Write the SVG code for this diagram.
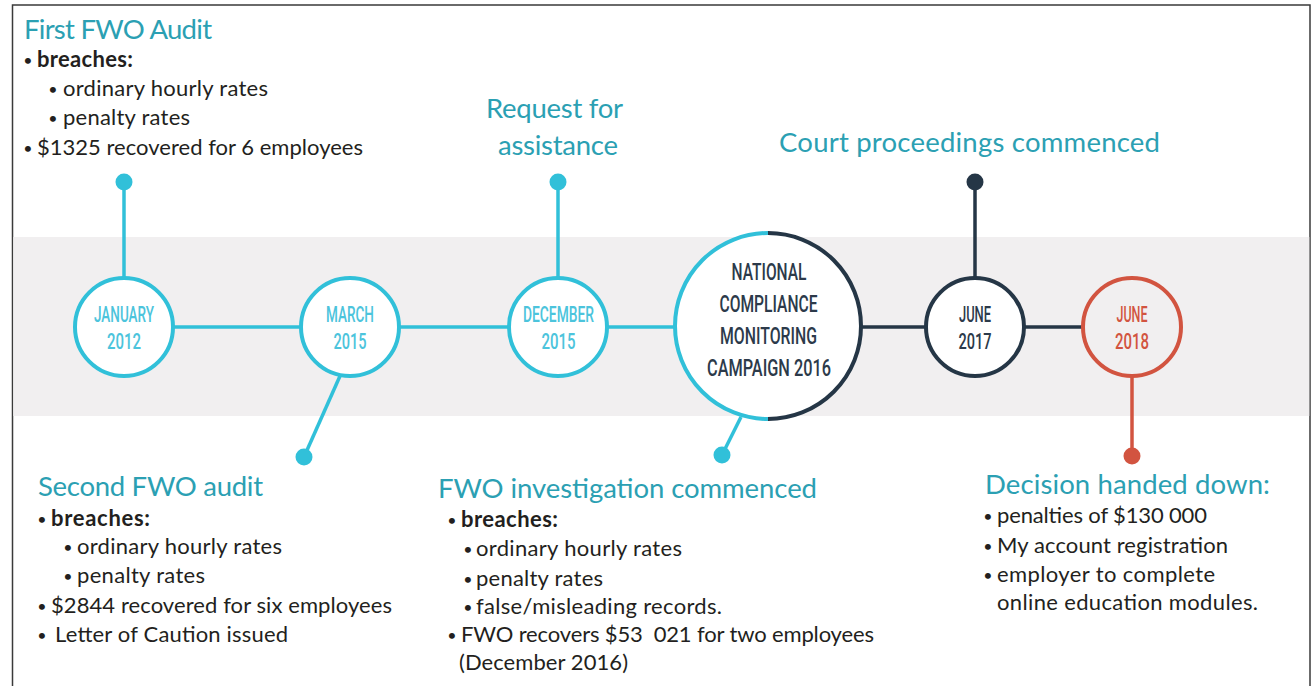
<svg xmlns="http://www.w3.org/2000/svg" width="1316" height="686" viewBox="0 0 1316 686">
  <style>
    .hd{font-family:Lato,"Liberation Sans",sans-serif;font-size:27.5px;fill:#2ba0b3}
    .bd{font-family:Lato,"Liberation Sans",sans-serif;font-size:22px;fill:#231f20}
    .bl{font-family:Lato,"Liberation Sans",sans-serif;font-size:16px;fill:#231f20;text-anchor:middle}
    .b{font-weight:bold}
    .dt{font-family:Roboto,"Liberation Sans",sans-serif;font-size:22px;font-weight:500}
    .nat{font-family:Roboto,"Liberation Sans",sans-serif;font-size:24px;font-weight:500;fill:#2c3a4a}
    .cy{fill:#4cc4dc}
    .nv{fill:#2c3a4a}
    .rd{fill:#d25440}
    .ln-c{stroke:#31c0d9;stroke-width:4;fill:none}
    .ln-n{stroke:#253646;stroke-width:4;fill:none}
    .ln-r{stroke:#d25440;stroke-width:4;fill:none}
    .stem-c{stroke:#31c0d9;stroke-width:3.5}
    .stem-n{stroke:#253646;stroke-width:3.5}
    .stem-r{stroke:#d25440;stroke-width:3.5}
  </style>

  <!-- frame and band -->
  <rect x="12.5" y="5" width="1297.5" height="700" fill="#ffffff" stroke="#3a3a3a" stroke-width="1.5"/>
  <rect x="13.3" y="237" width="1296" height="179" fill="#f1eff0"/>

  <!-- connectors -->
  <g id="connectors">
    <line class="stem-c" x1="124" y1="327" x2="675" y2="327" stroke-width="4"/>
    <line class="stem-n" x1="861" y1="327" x2="1083" y2="327" stroke-width="4"/>
    <line class="stem-c" x1="124" y1="182" x2="124" y2="278"/>
    <circle cx="124" cy="182" r="8.5" fill="#31c0d9"/>
    <line class="stem-c" x1="558" y1="182" x2="558" y2="278"/>
    <circle cx="558" cy="182" r="8.5" fill="#31c0d9"/>
    <line class="stem-n" x1="975" y1="182" x2="975" y2="278"/>
    <circle cx="975" cy="182" r="8.5" fill="#253646"/>
    <line class="stem-c" x1="340" y1="376" x2="304" y2="457"/>
    <circle cx="304" cy="457" r="8.5" fill="#31c0d9"/>
    <line class="stem-c" x1="741" y1="417" x2="722" y2="455"/>
    <circle cx="722" cy="455" r="8.5" fill="#31c0d9"/>
    <line class="stem-r" x1="1132" y1="376" x2="1132" y2="456"/>
    <circle cx="1132" cy="456" r="8.5" fill="#d25440"/>
  </g>

  <!-- timeline nodes -->
  <g id="node-jan2012">
    <circle cx="124" cy="327" r="49" class="ln-c" style="fill:#fff"/>
    <text class="dt cy" x="94" y="322" textLength="60" lengthAdjust="spacingAndGlyphs">JANUARY</text>
    <text class="dt cy" x="107" y="349" textLength="34" lengthAdjust="spacingAndGlyphs">2012</text>
  </g>
  <g id="node-mar2015">
    <circle cx="350" cy="327" r="49" class="ln-c" style="fill:#fff"/>
    <text class="dt cy" x="326" y="322" textLength="48" lengthAdjust="spacingAndGlyphs">MARCH</text>
    <text class="dt cy" x="333.5" y="349" textLength="33" lengthAdjust="spacingAndGlyphs">2015</text>
  </g>
  <g id="node-dec2015">
    <circle cx="558" cy="327" r="49" class="ln-c" style="fill:#fff"/>
    <text class="dt cy" x="523" y="322" textLength="71" lengthAdjust="spacingAndGlyphs">DECEMBER</text>
    <text class="dt cy" x="541.5" y="349" textLength="34" lengthAdjust="spacingAndGlyphs">2015</text>
  </g>
  <g id="node-campaign2016">
    <circle cx="768" cy="326" r="93" fill="#ffffff"/>
    <path class="ln-c" stroke-width="3.5" d="M768,233 A93,93 0 0 0 768,419"/>
    <path class="ln-n" stroke-width="3.5" d="M768,233 A93,93 0 0 1 768,419"/>
    <text class="nat" x="731.5" y="280" textLength="75" lengthAdjust="spacingAndGlyphs">NATIONAL</text>
    <text class="nat" x="719.5" y="312" textLength="98" lengthAdjust="spacingAndGlyphs">COMPLIANCE</text>
    <text class="nat" x="720" y="344" textLength="97" lengthAdjust="spacingAndGlyphs">MONITORING</text>
    <text class="nat" x="707" y="376" textLength="124" lengthAdjust="spacingAndGlyphs">CAMPAIGN 2016</text>
  </g>
  <g id="node-jun2017">
    <circle cx="975" cy="327" r="49" class="ln-n" style="fill:#fff"/>
    <text class="dt nv" x="959" y="322" textLength="32" lengthAdjust="spacingAndGlyphs">JUNE</text>
    <text class="dt nv" x="958.5" y="349" textLength="33" lengthAdjust="spacingAndGlyphs">2017</text>
  </g>
  <g id="node-jun2018">
    <circle cx="1132" cy="327" r="49" class="ln-r"/>
    <text class="dt rd" x="1116.5" y="322" textLength="31" lengthAdjust="spacingAndGlyphs">JUNE</text>
    <text class="dt rd" x="1115" y="349" textLength="34" lengthAdjust="spacingAndGlyphs">2018</text>
  </g>

  <!-- event notes -->
  <g id="note-first-audit">
    <text class="hd" x="24" y="39" textLength="188">First FWO Audit</text>
    <text class="bl" x="28" y="66">•</text>
    <text class="bd b" x="37" y="67" textLength="96">breaches:</text>
    <text class="bl" x="53" y="95">•</text>
    <text class="bd" x="63" y="96" textLength="205">ordinary hourly rates</text>
    <text class="bl" x="53" y="124">•</text>
    <text class="bd" x="63" y="125" textLength="127">penalty rates</text>
    <text class="bl" x="28" y="154">•</text>
    <text class="bd" x="37" y="155" textLength="326">$1325 recovered for 6 employees</text>
  </g>

  <g id="note-request">
    <text class="hd" x="486" y="118" textLength="137">Request for</text>
    <text class="hd" x="498" y="155" textLength="120">assistance</text>
  </g>

  <g id="note-court">
    <text class="hd" x="779" y="152" textLength="381">Court proceedings commenced</text>
  </g>

  <g id="note-second-audit">
    <text class="hd" x="38" y="496" textLength="225">Second FWO audit</text>
    <text class="bl" x="42" y="525">•</text>
    <text class="bd b" x="51" y="526" textLength="99">breaches:</text>
    <text class="bl" x="68" y="553">•</text>
    <text class="bd" x="77" y="554" textLength="205">ordinary hourly rates</text>
    <text class="bl" x="68" y="582">•</text>
    <text class="bd" x="77" y="583" textLength="128">penalty rates</text>
    <text class="bl" x="42" y="612">•</text>
    <text class="bd" x="51" y="613" textLength="341">$2844 recovered for six employees</text>
    <text class="bl" x="42" y="641">•</text>
    <text class="bd" x="55" y="642" textLength="233">Letter of Caution issued</text>
  </g>

  <g id="note-investigation">
    <text class="hd" x="438" y="498" textLength="379">FWO investigation commenced</text>
    <text class="bl" x="452" y="526">•</text>
    <text class="bd b" x="461" y="527" textLength="97">breaches:</text>
    <text class="bl" x="468" y="555">•</text>
    <text class="bd" x="476" y="556" textLength="206">ordinary hourly rates</text>
    <text class="bl" x="468" y="585">•</text>
    <text class="bd" x="476" y="586" textLength="127">penalty rates</text>
    <text class="bl" x="468" y="613">•</text>
    <text class="bd" x="476" y="614" textLength="246">false/misleading records.</text>
    <text class="bl" x="452" y="641">•</text>
    <text class="bd" x="461" y="642" textLength="413">FWO recovers $53 &#160;021 for two employees</text>
    <text class="bd" x="459" y="670" textLength="169">(December 2016)</text>
  </g>

  <g id="note-decision">
    <text class="hd" x="985" y="494" textLength="285">Decision handed down:</text>
    <text class="bl" x="988" y="522">•</text>
    <text class="bd" x="997" y="523" textLength="210">penalties of $130 000</text>
    <text class="bl" x="988" y="552">•</text>
    <text class="bd" x="997" y="553" textLength="231">My account registration</text>
    <text class="bl" x="988" y="581">•</text>
    <text class="bd" x="997" y="582" textLength="218">employer to complete</text>
    <text class="bd" x="997" y="610" textLength="261">online education modules.</text>
  </g>
</svg>
